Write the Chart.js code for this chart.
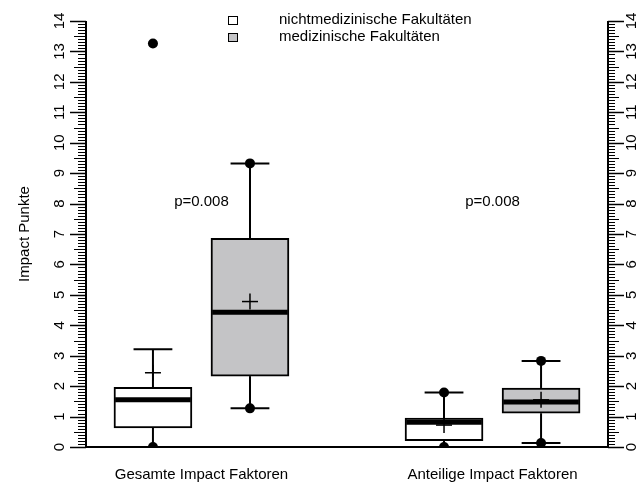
<!DOCTYPE html>
<html>
<head>
<meta charset="utf-8">
<script src="https://cdn.jsdelivr.net/npm/chart.js@4/dist/chart.umd.min.js"></script>
<style>
  body { margin: 0; background: #fff; }
  canvas { display: block; }
</style>
</head>
<body>
<canvas id="boxChart" width="644" height="485"></canvas>
<script>
// box positions on the x axis (1,2 = Gesamte, 4,5 = Anteilige)
var positions = [1, 2, 4, 5];
var groupNames = ['nichtmedizinische Fakultäten', 'medizinische Fakultäten'];
var categories = ['Gesamte Impact Faktoren', 'Anteilige Impact Faktoren'];
var categoryPos = [1.5, 4.5];

// box statistics, one entry per box
var q1 = [0.63, 2.33, 0.21, 1.11];
var q3 = [1.96, 6.86, 0.95, 1.94];
var medians = [1.55, 4.43, 0.81, 1.48];
var means = [2.44, 4.78, 0.72, 1.55];
var whiskerLow = [0, 1.27, 0, 0.13];
var whiskerHigh = [3.21, 9.32, 1.79, 2.83];
var minima = [0, 1.27, 0, 0.13];
var maxima = [13.26, 9.32, 1.79, 2.83];

var pLabels = ['p=0.008', 'p=0.008'];
var pLabelY = 8.05;
var yTicks = [0, 1, 2, 3, 4, 5, 6, 7, 8, 9, 10, 11, 12, 13, 14];

var FONT = '15px "Liberation Sans", Arial, sans-serif';
var GRAY = '#c4c4c6';

function boxData(idx) {
    return idx.map(function(i) { return {x: positions[i], y: [q1[i], q3[i]]}; });
}

var dots = [];
for (var i = 0; i < positions.length; i++) {
    dots.push({x: positions[i], y: minima[i]});
    dots.push({x: positions[i], y: maxima[i]});
}

function line(ctx, x1, y1, x2, y2) {
    ctx.beginPath();
    ctx.moveTo(x1, y1);
    ctx.lineTo(x2, y2);
    ctx.stroke();
}

// whiskers go under the boxes
var whiskerPlugin = {
    id: 'whiskers',
    beforeDatasetsDraw: function(chart) {
        var ctx = chart.ctx, xs = chart.scales.x, ys = chart.scales.y;
        ctx.save();
        ctx.strokeStyle = '#000';
        ctx.lineWidth = 2;
        for (var i = 0; i < positions.length; i++) {
            var cx = xs.getPixelForValue(positions[i]);
            var half = (xs.getPixelForValue(positions[i] + 0.2) - cx);
            line(ctx, cx, ys.getPixelForValue(whiskerHigh[i]), cx, ys.getPixelForValue(q3[i]));
            line(ctx, cx, ys.getPixelForValue(whiskerLow[i]), cx, ys.getPixelForValue(q1[i]));
            line(ctx, cx - half, ys.getPixelForValue(whiskerHigh[i]), cx + half, ys.getPixelForValue(whiskerHigh[i]));
            line(ctx, cx - half, ys.getPixelForValue(whiskerLow[i]), cx + half, ys.getPixelForValue(whiskerLow[i]));
        }
        ctx.restore();
    },
    afterDatasetsDraw: function(chart) {
        var ctx = chart.ctx, xs = chart.scales.x, ys = chart.scales.y;
        ctx.save();
        ctx.strokeStyle = '#000';
        for (var i = 0; i < positions.length; i++) {
            var cx = xs.getPixelForValue(positions[i]);
            var half = xs.getPixelForValue(positions[i] + 0.4) - cx;
            // median
            ctx.lineWidth = 5;
            var my = ys.getPixelForValue(medians[i]);
            line(ctx, cx - half + 1, my, cx + half - 1, my);
            // mean cross
            ctx.lineWidth = 1.5;
            var mx = ys.getPixelForValue(means[i]);
            line(ctx, cx - 8, mx, cx + 8, mx);
            line(ctx, cx, mx - 8, cx, mx + 8);
        }
        ctx.restore();
    }
};

// axes, labels and legend
var framePlugin = {
    id: 'frame',
    afterDraw: function(chart) {
        var ctx = chart.ctx, xs = chart.scales.x, ys = chart.scales.y;
        var area = chart.chartArea;
        var y0 = ys.getPixelForValue(0), y14 = ys.getPixelForValue(14);
        ctx.save();
        ctx.strokeStyle = '#000';
        ctx.fillStyle = '#000';

        ctx.lineWidth = 2;
        line(ctx, area.left, y0, area.right, y0);
        line(ctx, area.left, y0 + 1, area.left, y14);
        line(ctx, area.right, y0 + 1, area.right, y14);

        for (var k = 0; k <= 140; k++) {
            var py = Math.round(ys.getPixelForValue(k / 10)) + 0.5;
            var lenL, lenR;
            if (k % 10 === 0) { lenL = 16; lenR = 16; ctx.lineWidth = 1.5; }
            else if (k % 5 === 0) { lenL = 12; lenR = 11; ctx.lineWidth = 1; }
            else { lenL = 8; lenR = 7; ctx.lineWidth = 1; }
            line(ctx, area.left, py, area.left - lenL, py);
            line(ctx, area.right, py, area.right + lenR, py);
        }

        ctx.font = FONT;
        ctx.textAlign = 'center';
        ctx.textBaseline = 'middle';
        yTicks.forEach(function(v) {
            var py = ys.getPixelForValue(v);
            [60, 632].forEach(function(px) {
                ctx.save();
                ctx.translate(px, py);
                ctx.rotate(-Math.PI / 2);
                ctx.fillText(String(v), 0, 0);
                ctx.restore();
            });
        });

        ctx.save();
        ctx.translate(25, (area.top + area.bottom) / 2);
        ctx.rotate(-Math.PI / 2);
        ctx.fillText('Impact Punkte', 0, 0);
        ctx.restore();

        categories.forEach(function(c, i) {
            ctx.fillText(c, xs.getPixelForValue(categoryPos[i]), 475);
        });
        pLabels.forEach(function(p, i) {
            ctx.fillText(p, xs.getPixelForValue(categoryPos[i]), ys.getPixelForValue(pLabelY));
        });

        // legend
        ctx.textAlign = 'left';
        ctx.lineWidth = 1;
        [20, 37].forEach(function(ly, i) {
            ctx.fillStyle = i === 0 ? '#fff' : GRAY;
            ctx.fillRect(228.5, ly - 3.5, 9, 8);
            ctx.strokeRect(228.5, ly - 3.5, 9, 8);
            ctx.fillStyle = '#000';
            ctx.fillText(groupNames[i], 279, ly);
        });
        ctx.restore();
    }
};

var config = {
    type: 'bar',
    data: {
        datasets: [
            {
                type: 'scatter',
                data: dots,
                pointRadius: 5,
                pointHoverRadius: 5,
                backgroundColor: '#000',
                borderColor: '#000',
                borderWidth: 0
            },
            {
                label: groupNames[0],
                data: boxData([0, 2]),
                backgroundColor: '#fff',
                borderColor: '#000',
                borderWidth: 2,
                borderSkipped: false,
                barThickness: 78,
                grouped: false
            },
            {
                label: groupNames[1],
                data: boxData([1, 3]),
                backgroundColor: GRAY,
                borderColor: '#000',
                borderWidth: 2,
                borderSkipped: false,
                barThickness: 78,
                grouped: false
            }
        ]
    },
    options: {
        responsive: false,
        animation: false,
        layout: {
            padding: {left: 86, right: 36, top: 21, bottom: 38}
        },
        plugins: {
            legend: {display: false},
            tooltip: {enabled: false}
        },
        scales: {
            x: {type: 'linear', min: 0.31, max: 5.69, offset: false, display: false},
            y: {type: 'linear', min: 0, max: 14, display: false}
        }
    },
    plugins: [whiskerPlugin, framePlugin]
};

var chart = new Chart(document.getElementById('boxChart').getContext('2d'), config);
</script>
</body>
</html>
